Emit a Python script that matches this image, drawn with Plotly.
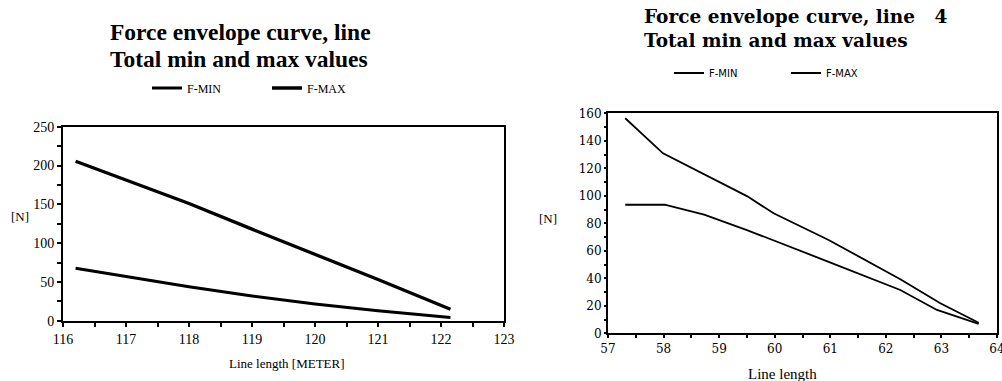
import plotly.graph_objects as go

# Left chart data
left_x_max = [116.2, 117.0, 118.0, 119.0, 120.0, 121.0, 122.15]
left_fmax = [205.5, 181.0, 151.0, 118.0, 86.0, 53.0, 14.7]
left_x_min = [116.2, 117.0, 118.0, 119.0, 120.0, 121.0, 122.15]
left_fmin = [67.5, 56.7, 43.8, 31.8, 21.5, 12.9, 4.0]

# Right chart data
right_x_max = [57.31, 57.99, 59.5, 59.98, 60.97, 62.26, 62.98, 63.67]
right_fmax = [156.4, 130.9, 99.8, 87.3, 67.9, 39.3, 21.8, 7.7]
right_x_min = [57.31, 58.02, 58.73, 59.5, 60.97, 62.26, 62.92, 63.67]
right_fmin = [93.5, 93.5, 86.3, 75.1, 52.0, 31.5, 17.0, 6.8]

SERIF = "Liberation Serif"
WSERIF = "DejaVu Serif"
WSANS = "DejaVu Sans"
BLACK = "#000000"

fig = go.Figure()

fig.add_trace(go.Scatter(x=left_x_min, y=left_fmin, mode="lines", name="F-MIN",
                         line=dict(color=BLACK, width=3), xaxis="x", yaxis="y",
                         legend="legend"))
fig.add_trace(go.Scatter(x=left_x_max, y=left_fmax, mode="lines", name="F-MAX",
                         line=dict(color=BLACK, width=3.3), xaxis="x", yaxis="y",
                         legend="legend"))
fig.add_trace(go.Scatter(x=right_x_min, y=right_fmin, mode="lines", name="F-MIN",
                         line=dict(color=BLACK, width=1.8), xaxis="x2", yaxis="y2",
                         legend="legend2"))
fig.add_trace(go.Scatter(x=right_x_max, y=right_fmax, mode="lines", name="F-MAX",
                         line=dict(color=BLACK, width=1.8), xaxis="x2", yaxis="y2",
                         legend="legend2"))

LX = [63 / 1002, 504 / 1002]
LY = [60.3 / 381, 254.3 / 381]
RX = [608 / 1002, 997 / 1002]
RY = [47.7 / 381, 267.7 / 381]


def axis(domain, rng, dtick, minor_dtick, anchor, font, ticklen):
    return dict(domain=domain, range=rng, dtick=dtick, tick0=rng[0], anchor=anchor,
                showgrid=False, zeroline=False, showline=True, linecolor=BLACK,
                linewidth=2, mirror=True, ticks="outside", ticklen=ticklen, tickwidth=2,
                tickcolor=BLACK, tickfont=font, ticklabeloverflow="allow",
                minor=dict(dtick=minor_dtick, ticks="outside", ticklen=ticklen,
                           tickwidth=2, tickcolor=BLACK, showgrid=False),
                automargin=False, fixedrange=True)


def note(text, x, y, family, size, bold=False):
    return dict(text=f"<b>{text}</b>" if bold else text, xref="paper", yref="paper",
                x=x / 1002, y=1 - y / 381, xanchor="left" if bold else "center",
                yanchor="middle", showarrow=False,
                font=dict(family=family, size=size, color=BLACK))


fig.update_layout(
    width=1002, height=381,
    margin=dict(l=0, r=0, t=0, b=0, autoexpand=False),
    paper_bgcolor="white", plot_bgcolor="white",
    showlegend=True,
    xaxis=axis(LX, [116, 123], 1, 0.5, "y", dict(family=SERIF, size=14, color=BLACK), 4),
    yaxis=axis(LY, [0, 250], 50, 25, "x", dict(family=SERIF, size=14, color=BLACK), 4),
    xaxis2=axis(RX, [57, 64], 1, 0.5, "y2", dict(family=WSERIF, size=12, color=BLACK), 3),
    yaxis2=axis(RY, [0, 160], 20, 10, "x2", dict(family=WSERIF, size=12, color=BLACK), 2),
    legend=dict(orientation="h", x=147 / 1002, y=1 - 88 / 381, xanchor="left",
                yanchor="middle", font=dict(family=SERIF, size=12, color=BLACK),
                bgcolor="rgba(0,0,0,0)", entrywidth=75, entrywidthmode="pixels"),
    legend2=dict(orientation="h", x=669 / 1002, y=1 - 73 / 381, xanchor="left",
                 yanchor="middle", font=dict(family=WSANS, size=10, color=BLACK),
                 bgcolor="rgba(0,0,0,0)", entrywidth=72, entrywidthmode="pixels"),
    annotations=[
        note("Force envelope curve, line", 108, 32, SERIF, 23.5, bold=True),
        note("Total min and max values", 108, 59, SERIF, 23.5, bold=True),
        note("Force envelope curve, line   4", 642, 16, WSERIF, 18.5, bold=True),
        note("Total min and max values", 642, 41, WSERIF, 18.5, bold=True),
        note("[N]", 20, 216, SERIF, 13),
        note("[N]", 548, 218, SERIF, 13),
        note("Line length [METER]", 287, 363, SERIF, 13),
        note("Line length", 782, 374, SERIF, 15),
    ],
)

fig.write_html("out.html")
